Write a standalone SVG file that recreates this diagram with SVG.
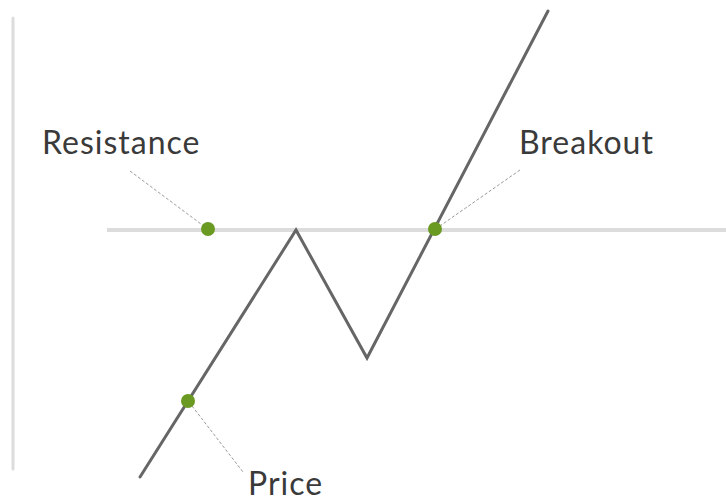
<svg xmlns="http://www.w3.org/2000/svg" width="726" height="499" viewBox="0 0 726 499">
<style>
.axis{stroke:#dcdcdc;stroke-width:3;fill:none;stroke-linecap:round}
.level{stroke:#dcdcdc;stroke-width:4;fill:none}
.price{stroke:#666;stroke-width:3;fill:none;stroke-linejoin:miter;stroke-linecap:round}
.leader{stroke:#999;stroke-width:1;stroke-dasharray:3 2;fill:none}
.dot{fill:#6b9a22}
.lbl{font-family:Lato,"Open Sans","Liberation Sans",sans-serif;font-size:32px;letter-spacing:1px;fill:#3a3a3a}
</style>
<rect width="726" height="499" fill="#fff"/>
<g id="axis"><line class="axis" x1="13" y1="18" x2="13" y2="469"/></g>
<g id="resistance-line"><line class="level" x1="107" y1="230" x2="726" y2="230"/></g>
<g id="price-line"><polyline class="price" points="140,477 296,230 367,358 548,11"/></g>
<g id="connectors">
<line class="leader" x1="130" y1="171" x2="205" y2="227"/>
<line class="leader" x1="520" y1="170" x2="437" y2="228"/>
<line class="leader" x1="192" y1="406" x2="243" y2="472"/>
</g>
<g id="resistance-dot"><circle class="dot" cx="208" cy="229" r="7"/></g>
<g id="breakout-dot"><circle class="dot" cx="435" cy="229" r="7"/></g>
<g id="price-dot"><circle class="dot" cx="188" cy="401" r="7"/></g>
<g id="label-resistance"><text class="lbl" x="42" y="154">Resistance</text></g>
<g id="label-breakout"><text class="lbl" x="519" y="154">Breakout</text></g>
<g id="label-price"><text class="lbl" x="248" y="495">Price</text></g>
</svg>
